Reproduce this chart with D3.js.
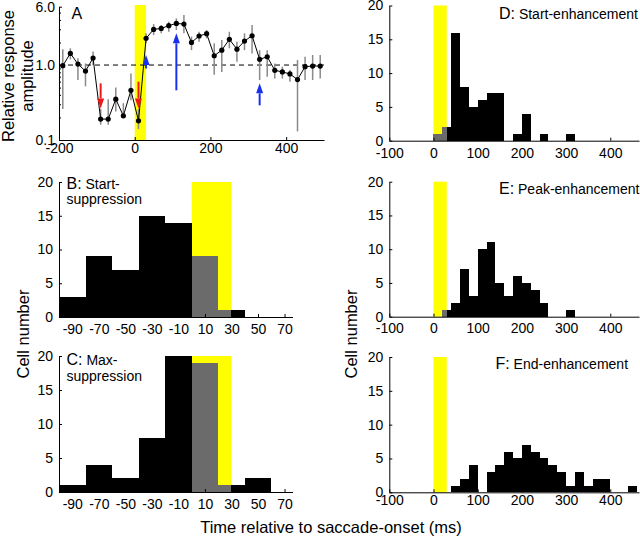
<!DOCTYPE html>
<html>
<head>
<meta charset="utf-8">
<script src="https://cdn.jsdelivr.net/npm/d3@7"></script>
<style>
body { margin: 0; background: #fff; }
text { font-family: "Liberation Sans", Arial, sans-serif; }
</style>
</head>
<body>
<script>
// panel A: relative response amplitude (log), 20 ms steps
const timeA = [-190,-170,-150,-130,-110,-90,-70,-50,-30,-10,10,30,50,70,90,110,130,150,170,190,210,230,250,270,290,310,330,350,370,390,410,430,450,470,490];
const ampA  = [0.98,1.43,1.03,0.83,1.24,0.19,0.19,0.35,0.21,0.46,0.18,2.27,2.99,3.08,3.35,3.59,3.52,2.0,2.44,2.62,1.33,1.58,2.2,1.63,2.09,2.46,1.19,1.29,0.85,0.81,0.76,0.64,0.95,0.97,0.97];
const errHiA = [1.62,1.67,1.23,1.05,1.51,0.26,0.35,0.5,0.31,0.77,0.26,2.65,3.52,3.42,3.78,4.19,4.64,2.39,2.78,2.93,1.95,2.16,2.78,2.05,2.65,3.42,1.58,1.58,1.05,0.95,0.86,1.17,1.29,1.36,1.36];
const errLoA = [0.26,1.19,0.63,0.52,1.0,0.16,0.16,0.24,0.2,0.34,0.14,1.95,2.51,2.65,2.78,2.93,2.65,1.58,2.05,2.27,0.74,0.81,1.67,1.11,1.58,1.43,0.63,0.70,0.66,0.66,0.60,0.13,0.63,0.63,0.66];

// arrows in panel A (time, start value, tip value)
const arrowTime = [-90, 10, 30, 110, 330];
const arrowFrom = [0.57, 0.60, 0.90, 0.46, 0.29];
const arrowTo   = [0.264, 0.264, 1.36, 2.65, 0.57];

// saccade window
const saccade = [0, 30];

// histograms, 20 ms bins (bin start)
const binsBC = [-100,-80,-60,-40,-20,0,20,40,60];
const countsB = [3,9,7,15,14,9,1,0,0];
const countsC = [1,4,2,8,20,19,1,2,0];

const binsDEF = [0,20,40,60,80,100,120,140,160,180,200,220,240,260,280,300,320,340,360,380,400,420,440];
const countsD = [1,2,16,8,5,6,7,7,0,1,4,0,1,0,0,1,0,0,0,0,0,0,0];
const countsE = [0,1,2,7,3,10,11,5,3,6,5,4,2,0,0,1,0,0,0,0,0,0,0];
const countsF = [0,0,1,2,4,0,3,4,6,5,7,6,5,4,3,1,3,1,2,2,0,0,1];

const ticksBC = [-90,-70,-50,-30,-10,10,30,50,70];
const ticksDEF = [-100,0,100,200,300,400];
const ticksY = [0,5,10,15,20];

const width = 640;
const height = 537;
const font = '"Liberation Sans", Arial, sans-serif';

const svg = d3.select("body")
    .append("svg")
    .attr("width", width)
    .attr("height", height);

function styleAxis(g) {
    g.attr("font-size", 14).attr("font-family", font);
    g.selectAll("text").attr("fill", "#000");
}

// ---------- panel A ----------
const xA = d3.scaleLinear().domain([-200, 500]).range([59, 324]);
const yA = d3.scaleLog().domain([0.1, 6]).range([140, 6.7]);

svg.append("rect")
    .attr("x", xA(saccade[0]))
    .attr("width", xA(saccade[1]) - xA(saccade[0]))
    .attr("y", 5)
    .attr("height", yA(0.1) - 5)
    .attr("fill", "#ffff00");

svg.append("line")
    .attr("x1", xA(-200)).attr("x2", xA(500))
    .attr("y1", yA(1)).attr("y2", yA(1))
    .attr("stroke", "#000")
    .attr("stroke-dasharray", "5,4");

// error bars
svg.append("g")
    .selectAll("line")
    .data(timeA)
    .enter()
    .append("line")
    .attr("x1", d => xA(d)).attr("x2", d => xA(d))
    .attr("y1", (d, i) => yA(errLoA[i]))
    .attr("y2", (d, i) => yA(errHiA[i]))
    .attr("stroke", "#8a8a8a")
    .attr("stroke-width", 1.5);

svg.append("path")
    .datum(timeA)
    .attr("d", d3.line().x(d => xA(d)).y((d, i) => yA(ampA[i])))
    .attr("fill", "none")
    .attr("stroke", "#000")
    .attr("stroke-width", 1);

svg.append("g")
    .selectAll("circle")
    .data(timeA)
    .enter()
    .append("circle")
    .attr("cx", d => xA(d))
    .attr("cy", (d, i) => yA(ampA[i]))
    .attr("r", 2.6)
    .attr("fill", "#000");

// arrows
arrowTime.forEach(function(t, i) {
    const x = xA(t);
    const y0 = yA(arrowFrom[i]);
    const y1 = yA(arrowTo[i]);
    const dir = y1 > y0 ? 1 : -1;
    const col = dir > 0 ? "#f01818" : "#1830f0";
    const head = 10;
    svg.append("line")
        .attr("x1", x).attr("x2", x)
        .attr("y1", y0).attr("y2", y1 - dir * head)
        .attr("stroke", col)
        .attr("stroke-width", 2);
    svg.append("path")
        .attr("d", `M${x - 3.5},${y1 - dir * head}L${x + 3.5},${y1 - dir * head}L${x},${y1}Z`)
        .attr("fill", col);
});

svg.append("g")
    .attr("transform", "translate(0,140)")
    .call(d3.axisBottom(xA).tickValues([-200, 0, 200, 400]).tickFormat(d => String(d))
        .tickSize(-3).tickSizeOuter(0).tickPadding(3))
    .call(styleAxis);

svg.append("g")
    .attr("transform", "translate(59,0)")
    .call(d3.axisLeft(yA).tickValues([0.1, 1, 6]).tickFormat(d3.format(".1f"))
        .tickSize(-3).tickSizeOuter(0).tickPadding(4))
    .call(styleAxis);

svg.append("g")
    .attr("transform", "translate(59,0)")
    .call(d3.axisLeft(yA).tickValues([0.2,0.3,0.4,0.5,0.6,0.7,0.8,0.9,2,3,4,5]).tickFormat("")
        .tickSize(-2).tickSizeOuter(0))
    .call(g => g.select(".domain").remove());

svg.append("text")
    .attr("x", 71.5).attr("y", 18.5)
    .attr("font-size", 16)
    .text("A");

svg.append("text")
    .attr("transform", "translate(13.5,76) rotate(-90)")
    .attr("text-anchor", "middle")
    .attr("font-size", 16.5)
    .text("Relative response");
svg.append("text")
    .attr("transform", "translate(32.5,76) rotate(-90)")
    .attr("text-anchor", "middle")
    .attr("font-size", 16.5)
    .text("amplitude");

// ---------- histograms ----------
function hist(cfg) {
    const x = d3.scaleLinear().domain(cfg.xDomain).range(cfg.xRange);
    const y = d3.scaleLinear().domain([0, 20]).range(cfg.yRange);
    const g = svg.append("g");
    const bw = 20;

    g.append("rect")
        .attr("x", x(saccade[0]))
        .attr("width", x(saccade[1]) - x(saccade[0]))
        .attr("y", y(20))
        .attr("height", y(0) - y(20))
        .attr("fill", "#ffff00");

    g.append("g")
        .attr("shape-rendering", "crispEdges")
        .selectAll("rect")
        .data(cfg.bins)
        .enter()
        .append("rect")
        .attr("x", d => x(d))
        .attr("width", d => x(d + bw) - x(d))
        .attr("y", (d, i) => y(cfg.counts[i]))
        .attr("height", (d, i) => y(0) - y(cfg.counts[i]))
        .attr("fill", "#000");

    // part of each bin inside the saccade window in gray
    g.append("g")
        .attr("shape-rendering", "crispEdges")
        .selectAll("rect")
        .data(cfg.bins.filter(d => d < saccade[1] && d + bw > saccade[0]))
        .enter()
        .append("rect")
        .attr("x", d => x(Math.max(d, saccade[0])))
        .attr("width", d => x(Math.min(d + bw, saccade[1])) - x(Math.max(d, saccade[0])))
        .attr("y", d => y(cfg.counts[cfg.bins.indexOf(d)]))
        .attr("height", d => y(0) - y(cfg.counts[cfg.bins.indexOf(d)]))
        .attr("fill", "#6b6b6b");

    g.append("g")
        .attr("transform", `translate(0,${cfg.yRange[0]})`)
        .call(d3.axisBottom(x).tickValues(cfg.ticks).tickFormat(d => String(d))
            .tickSize(-3).tickSizeOuter(0).tickPadding(cfg.pad))
        .call(styleAxis);

    g.append("g")
        .attr("transform", `translate(${cfg.xRange[0]},0)`)
        .call(d3.axisLeft(y).tickValues(ticksY).tickFormat(d => String(d))
            .tickSize(-3).tickSizeOuter(0).tickPadding(6))
        .call(styleAxis);

    const t = g.append("text")
        .attr("x", cfg.labelX).attr("y", cfg.labelY);
    t.append("tspan").attr("font-size", 16).text(cfg.letter);
    t.append("tspan").attr("font-size", 14).text(" " + cfg.name[0]);
    if (cfg.name.length > 1) {
        g.append("text")
            .attr("x", cfg.labelX).attr("y", cfg.labelY + 15.5)
            .attr("font-size", 14)
            .text(cfg.name[1]);
    }
}

hist({xDomain: [-100, 76], xRange: [59, 292.5], yRange: [317, 182], bins: binsBC, counts: countsB,
      ticks: ticksBC, pad: 7.5, letter: "B:", name: ["Start-", "suppression"], labelX: 66.5, labelY: 188.5});
hist({xDomain: [-100, 76], xRange: [59, 292.5], yRange: [492, 356], bins: binsBC, counts: countsC,
      ticks: ticksBC, pad: 7.5, letter: "C:", name: ["Max-", "suppression"], labelX: 66.5, labelY: 365});
hist({xDomain: [-100, 465], xRange: [389.3, 639], yRange: [140.7, 5.5], bins: binsDEF, counts: countsD,
      ticks: ticksDEF, pad: 7.5, letter: "D:", name: ["Start-enhancement"], labelX: 499, labelY: 18.5});
hist({xDomain: [-100, 465], xRange: [389.3, 639], yRange: [316.7, 181.7], bins: binsDEF, counts: countsE,
      ticks: ticksDEF, pad: 6.5, letter: "E:", name: ["Peak-enhancement"], labelX: 499, labelY: 194});
hist({xDomain: [-100, 465], xRange: [389.3, 639], yRange: [492.3, 357], bins: binsDEF, counts: countsF,
      ticks: ticksDEF, pad: 2.5, letter: "F:", name: ["End-enhancement"], labelX: 495.5, labelY: 368.5});

svg.append("text")
    .attr("transform", "translate(29,334) rotate(-90)")
    .attr("text-anchor", "middle")
    .attr("font-size", 16.5)
    .text("Cell number");
svg.append("text")
    .attr("transform", "translate(356.5,334) rotate(-90)")
    .attr("text-anchor", "middle")
    .attr("font-size", 16.5)
    .text("Cell number");

svg.append("text")
    .attr("x", 331).attr("y", 533)
    .attr("text-anchor", "middle")
    .attr("font-size", 16.5)
    .text("Time relative to saccade-onset (ms)");
</script>
</body>
</html>
